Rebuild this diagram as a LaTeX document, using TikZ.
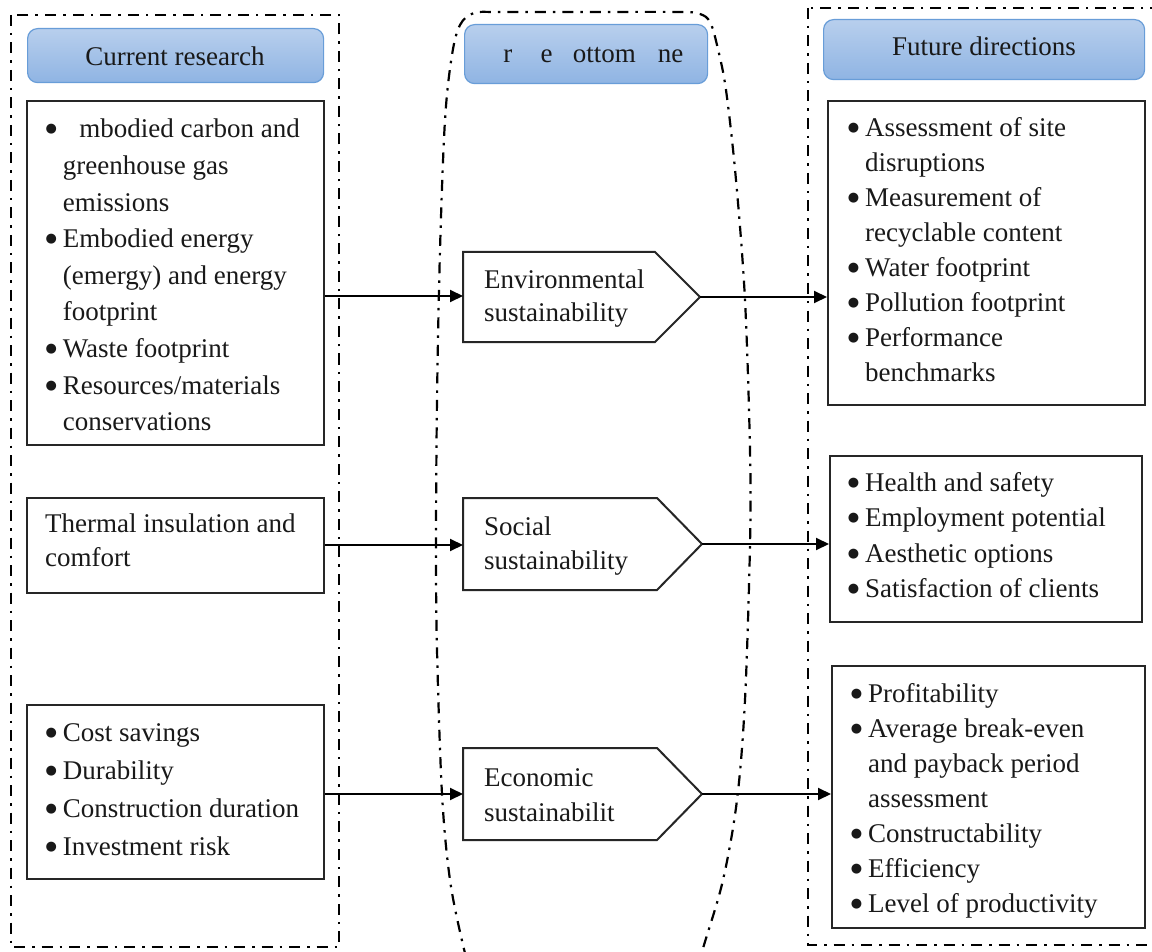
\documentclass[tikz,border=0pt]{standalone}
\usepackage{fontspec}
\setmainfont{Liberation Serif}
\newfontfamily\symfont{DejaVu Sans}
\usetikzlibrary{arrows.meta}
\definecolor{hdrtop}{RGB}{184,207,237}
\definecolor{hdrbot}{RGB}{143,180,227}
\definecolor{hdrline}{RGB}{104,157,216}
\newcommand\bigbul{\raisebox{5pt}{\symfont\fontsize{13pt}{13pt}\selectfont ●}}
\newcommand\bul{\llap{\makebox[23.4pt][c]{\bigbul}}}
\tikzset{
  dd/.style={line width=2.2pt, dash pattern=on 11pt off 7pt on 2.5pt off 7pt},
  hdr/.style={draw=hdrline, line width=1.2pt, top color=hdrtop, bottom color=hdrbot, rounded corners=10pt, anchor=north west, inner sep=0pt},
  cbox/.style={draw=black!85, line width=2pt, anchor=north west, inner sep=0pt},
  pent/.style={draw=black!85, line width=2pt, line join=miter},
  arr/.style={line width=2pt, -{Triangle[length=13pt,width=12pt]}},
  txt/.style={inner sep=0pt, anchor=base west, text=black!90},
}
\newcommand\fs[1]{\fontsize{27pt}{#1pt}\selectfont}
\begin{document}
\begin{tikzpicture}[x=1pt,y=-1pt]
\useasboundingbox (0,0) rectangle (1152,952);
\fill[white] (0,0) rectangle (1152,952);
\clip (0,0) rectangle (1152,952);

% dash-dot frames
\draw[dd] (11,15) rectangle (339,947);
\draw[dd] (808,8) rectangle (1175,945);
\draw[dd] plot[smooth, tension=0.55] coordinates {(474,985) (463,945) (450,880) (442,794) (437,650) (436,545) (437,400) (440,250) (445,120) (452,55) (460,25) (474,13) (500,12) (585,12) (680,12) (700,14) (710,22) (717,45) (726,90) (736,180) (745,300) (750,450) (750,545) (745,700) (737,800) (723,880) (704,945) (692,985)};

% headers
\node[hdr, minimum width=296pt, minimum height=54pt] (H1) at (27,28) {};
\node[hdr, minimum width=243pt, minimum height=59pt] (H2) at (464,24) {};
\node[hdr, minimum width=321pt, minimum height=60pt] (H3) at (823,19) {};
\node[txt, anchor=base, font=\fs{32}] (H1t) at (175,66) {Current research};
\node[txt, anchor=base, font=\fs{32}] (H2t) at (585,63) {\phantom{T}r\phantom{ipl}e \phantom{b}ottom \phantom{li}ne};
\node[txt, anchor=base, font=\fs{32}] (H3t) at (984,56) {Future directions};

% left boxes
\node[cbox, minimum width=297pt, minimum height=344pt] (L1) at (26,100) {};
\node[cbox, minimum width=297pt, minimum height=95pt] (L2) at (26,497) {};
\node[cbox, minimum width=297pt, minimum height=174pt] (L3) at (26,704) {};

\node[txt, font=\fs{36.6}] (L1t) at (62.7,138) {\begin{tabular}[t]{@{}l@{}}
\bul\phantom{E}mbodied carbon and\\
greenhouse gas\\
emissions\\
\bul Embodied energy\\
(emergy) and energy\\
footprint\\
\bul Waste footprint\\
\bul Resources/materials\\
conservations
\end{tabular}};
\node[txt, font=\fs{34}] (L2t) at (45,532.5) {\begin{tabular}[t]{@{}l@{}}
Thermal insulation and\\
comfort
\end{tabular}};
\node[txt, font=\fs{38}] (L3t) at (62.7,741.5) {\begin{tabular}[t]{@{}l@{}}
\bul Cost savings\\
\bul Durability\\
\bul Construction duration\\
\bul Investment risk
\end{tabular}};

% pentagons
\draw[pent] (463,252) -- (655,252) -- (700,297) -- (655,342) -- (463,342) -- cycle;
\draw[pent] (463,498) -- (657,498) -- (702,544) -- (657,590) -- (463,590) -- cycle;
\draw[pent] (463,748) -- (657,748) -- (702,794) -- (657,840) -- (463,840) -- cycle;
\coordinate (P1w) at (463,296);
\coordinate (P1e) at (700,297);
\coordinate (P2w) at (463,545);
\coordinate (P2e) at (702,544);
\coordinate (P3w) at (463,794);
\coordinate (P3e) at (702,794);
\node[txt, font=\fs{33.5}] (P1t) at (484,288.5) {\begin{tabular}[t]{@{}l@{}}Environmental\\ sustainability\end{tabular}};
\node[txt, font=\fs{33.5}] (P2t) at (484,535.5) {\begin{tabular}[t]{@{}l@{}}Social\\ sustainability\end{tabular}};
\node[txt, font=\fs{35}] (P3t) at (484,786) {\begin{tabular}[t]{@{}l@{}}Economic\\ sustainabilit\end{tabular}};

% right boxes
\node[cbox, minimum width=317pt, minimum height=304pt] (R1) at (827,100) {};
\node[cbox, minimum width=312pt, minimum height=166pt] (R2) at (829,455) {};
\node[cbox, minimum width=313pt, minimum height=262pt] (R3) at (831,665) {};

\node[txt, font=\fs{35}] (R1t) at (865,136.5) {\begin{tabular}[t]{@{}l@{}}
\bul Assessment of site\\
disruptions\\
\bul Measurement of\\
recyclable content\\
\bul Water footprint\\
\bul Pollution footprint\\
\bul Performance\\
benchmarks
\end{tabular}};
\node[txt, font=\fs{35.3}] (R2t) at (865,491.5) {\begin{tabular}[t]{@{}l@{}}
\bul Health and safety\\
\bul Employment potential\\
\bul Aesthetic options\\
\bul Satisfaction of clients
\end{tabular}};
\node[txt, font=\fs{35}] (R3t) at (868,702.5) {\begin{tabular}[t]{@{}l@{}}
\bul Profitability\\
\bul Average break-even\\
and payback period\\
assessment\\
\bul Constructability\\
\bul Efficiency\\
\bul Level of productivity
\end{tabular}};

% connectors
\draw[arr] (L1.east |- P1w) -- (P1w);
\draw[arr] (L2.east |- P2w) -- (P2w);
\draw[arr] (L3.east |- P3w) -- (P3w);
\draw[arr] (P1e) -- (R1.west |- P1e);
\draw[arr] (P2e) -- (R2.west |- P2e);
\draw[arr] (P3e) -- (R3.west |- P3e);
\end{tikzpicture}
\end{document}
